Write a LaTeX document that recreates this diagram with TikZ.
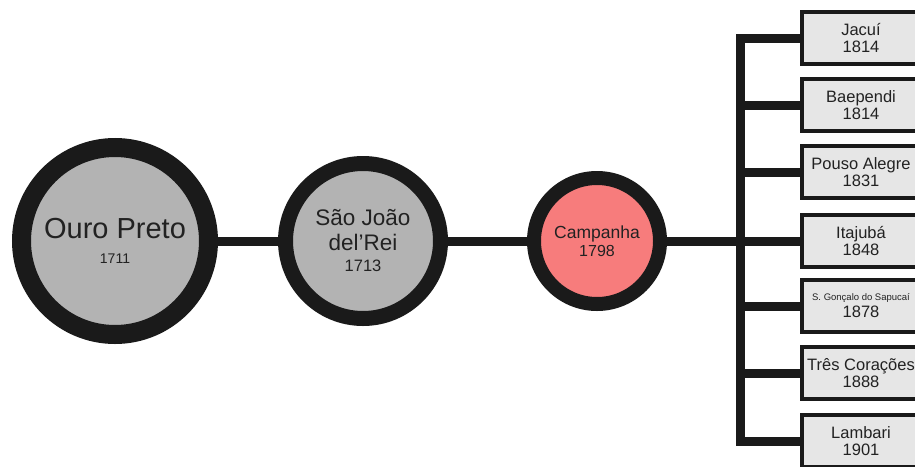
\documentclass[tikz,border=0pt]{standalone}
\usepackage{fontspec}
\setmainfont{Liberation Sans}
\definecolor{ring}{HTML}{1A1A1A}
\definecolor{txt}{HTML}{222222}
\definecolor{cgray}{HTML}{B3B3B3}
\definecolor{cpink}{HTML}{F77C7C}
\definecolor{bfill}{HTML}{E6E6E6}
\tikzset{
  city/.style={circle, draw=ring, fill=cgray, inner sep=0pt, text=txt, align=center},
  branch/.style={draw=ring, line width=9pt},
  town/.style={rectangle, draw=ring, fill=bfill, line width=4.5pt, minimum width=118pt, minimum height=52pt, inner sep=0pt, text=txt, align=center, font=\fontsize{16.5}{17}\selectfont},
}
\begin{document}
\begin{tikzpicture}[x=1pt,y=-1pt]
\useasboundingbox (0,0) rectangle (915,466);
\clip (0,0) rectangle (915,466);
\fill[white] (0,0) rectangle (915,466);
% connector end coordinates
\coordinate (bus) at (740,241);
% circles
\node[city, line width=19pt, minimum size=187pt, font=\fontsize{29}{25}\selectfont] (op) at (115,241) {Ouro Preto\\{\fontsize{14}{14}\selectfont 1711}};
\node[city, line width=15pt, minimum size=155pt, font=\fontsize{22.5}{25}\selectfont] (sj) at (363,241) {São João\\del’Rei\\[-4pt]{\fontsize{16.5}{16.5}\selectfont 1713}};
\node[city, fill=cpink, line width=14pt, minimum size=126pt, font=\fontsize{17.5}{18}\selectfont] (cp) at (597,241) {Campanha\\{\fontsize{16}{16}\selectfont 1798}};
% boxes
\node[town] (b1) at (861,38) {Jacuí\\1814};
\node[town] (b2) at (861,105) {Baependi\\1814};
\node[town] (b3) at (861,172) {Pouso Alegre\\1831};
\node[town] (b4) at (861,241) {Itajubá\\1848};
\node[town] (b5) at (861,306) {{\fontsize{9.5}{11}\selectfont S. Gonçalo do Sapucaí}\\1878};
\node[town] (b6) at (861,373) {Três Corações\\1888};
\node[town] (b7) at (861,441) {Lambari\\1901};
% connectors
\draw[branch] (op) -- (sj);
\draw[branch] (sj) -- (cp);
\draw[branch] (cp) -- (bus);
\draw[branch, line cap=rect] (bus |- b1) -- (bus |- b7);
\foreach \b in {b1,b2,b3,b4,b5,b6,b7} {
  \draw[branch] (bus |- \b) -- (\b.west);
}
\end{tikzpicture}
\end{document}
